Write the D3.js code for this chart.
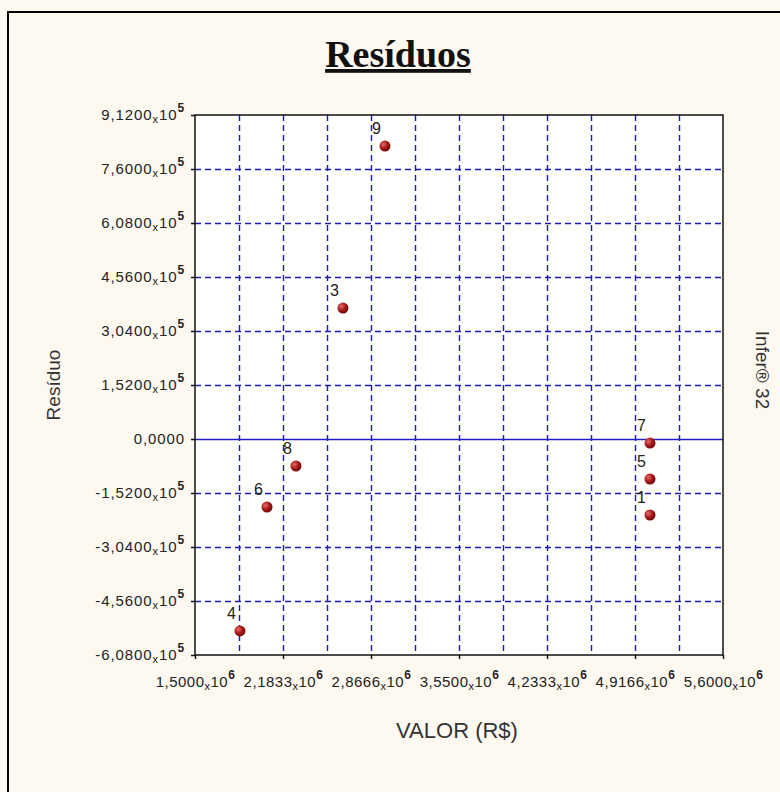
<html>
<head>
<script src="https://d3js.org/d3.v7.min.js"></script>
<title>Resíduos</title>
<style>
  body { margin: 0; background: #fdf9f1; }
</style>
</head>
<body>
<div id="chart"></div>
<script>
// data
const pointIds = ["1", "3", "4", "5", "6", "7", "8", "9"];
const valor    = [5.033e6, 2.649e6, 1.849e6, 5.033e6, 2.059e6, 5.033e6, 2.284e6, 2.975e6];
const residuo  = [-2.139e5, 3.687e5, -5.404e5, -1.126e5, -1.914e5, -0.113e5, -0.76e5, 8.247e5];

const xTicks = [1.5e6, 2.1833e6, 2.8666e6, 3.55e6, 4.2333e6, 4.9166e6, 5.6e6];
const xTickMant = ["1,5000", "2,1833", "2,8666", "3,5500", "4,2333", "4,9166", "5,6000"];
const yTicks = [9.12e5, 7.6e5, 6.08e5, 4.56e5, 3.04e5, 1.52e5, 0, -1.52e5, -3.04e5, -4.56e5, -6.08e5];
const yTickMant = ["9,1200", "7,6000", "6,0800", "4,5600", "3,0400", "1,5200", "0,0000",
                   "-1,5200", "-3,0400", "-4,5600", "-6,0800"];

const w = 780, h = 792;
const pLeft = 195, pRight = 723, pTop = 115, pBottom = 655;
const sans = "Liberation Sans, Arial, sans-serif";

const svg = d3.select("#chart").append("svg")
  .attr("width", w).attr("height", h)
  .attr("font-family", sans);

const defs = svg.append("defs");
const grad = defs.append("radialGradient").attr("id", "ball")
  .attr("cx", "35%").attr("cy", "35%").attr("r", "70%");
grad.append("stop").attr("offset", "0%").attr("stop-color", "#e86a6a");
grad.append("stop").attr("offset", "55%").attr("stop-color", "#a51818");
grad.append("stop").attr("offset", "100%").attr("stop-color", "#6a0606");

// outer frame
svg.append("rect")
  .attr("x", 8).attr("y", 12).attr("width", 820).attr("height", 820)
  .attr("fill", "#fdf9f1").attr("stroke", "#000").attr("stroke-width", 2);

const x = d3.scaleLinear().domain([1.5e6, 5.6e6]).range([pLeft, pRight]);
const y = d3.scaleLinear().domain([-6.08e5, 9.12e5]).range([pBottom, pTop]);
const crisp = v => Math.round(v) + 0.5;

// plot area
svg.append("rect")
  .attr("x", pLeft).attr("y", pTop)
  .attr("width", pRight - pLeft).attr("height", pBottom - pTop)
  .attr("fill", "#fffffd");

// grid
const gridColor = "#1c1cb4";
const xGrid = d3.range(1, 12).map(k => 1.5e6 + k * (4.1e6 / 12));
svg.append("g").selectAll("line").data(xGrid).enter().append("line")
  .attr("x1", d => crisp(x(d))).attr("x2", d => crisp(x(d)))
  .attr("y1", pTop).attr("y2", pBottom)
  .attr("stroke", gridColor).attr("stroke-width", 1.4)
  .attr("stroke-dasharray", "6,4");

svg.append("g").selectAll("line").data(yTicks.filter(d => d !== 0 && d < 9e5 && d > -6e5)).enter().append("line")
  .attr("x1", pLeft).attr("x2", pRight)
  .attr("y1", d => crisp(y(d))).attr("y2", d => crisp(y(d)))
  .attr("stroke", gridColor).attr("stroke-width", 1.4)
  .attr("stroke-dasharray", "6,4");

svg.append("line")
  .attr("x1", pLeft).attr("x2", pRight)
  .attr("y1", crisp(y(0))).attr("y2", crisp(y(0)))
  .attr("stroke", "#2020c8").attr("stroke-width", 1.5);

// border of plot
svg.append("rect")
  .attr("x", pLeft).attr("y", pTop)
  .attr("width", pRight - pLeft).attr("height", pBottom - pTop)
  .attr("fill", "none").attr("stroke", "#111").attr("stroke-width", 1.5);

function sciLabel(sel, mant, exp) {
  sel.text(null);
  sel.append("tspan").text(mant);
  if (mant === "0,0000") return;
  sel.append("tspan").attr("font-size", 11).attr("dy", 3).text("x");
  sel.append("tspan").attr("dy", -3).text("10");
  sel.append("tspan").attr("font-size", 12).attr("font-weight", "bold").attr("dy", -8).text(exp);
}

// y axis
const yAxis = d3.axisLeft(y).tickValues(yTicks).tickSize(4).tickPadding(6);
const gy = svg.append("g").attr("transform", `translate(${pLeft},0)`).call(yAxis);
gy.select(".domain").remove();
gy.selectAll(".tick line").attr("stroke", "#111").attr("stroke-width", 1.5);
gy.selectAll(".tick text")
  .attr("font-size", 15).attr("fill", "#222").attr("letter-spacing", 0.9)
  .attr("font-family", sans)
  .each(function(d, i) { sciLabel(d3.select(this), yTickMant[i], "5"); });

// x axis
const xAxis = d3.axisBottom(x).tickValues(xTicks).tickSize(4).tickPadding(17);
const gx = svg.append("g").attr("transform", `translate(0,${pBottom})`).call(xAxis);
gx.select(".domain").remove();
gx.selectAll(".tick line").attr("stroke", "#111").attr("stroke-width", 1.5);
gx.selectAll(".tick text")
  .attr("font-size", 15).attr("fill", "#222").attr("letter-spacing", 0.5)
  .attr("font-family", sans)
  .each(function(d, i) { sciLabel(d3.select(this), xTickMant[i], "6"); });

// points
const pts = svg.append("g").selectAll("g").data(pointIds).enter().append("g");
pts.append("circle")
  .attr("cx", (d, i) => x(valor[i])).attr("cy", (d, i) => y(residuo[i]))
  .attr("r", 5.5).attr("fill", "url(#ball)");
pts.append("text")
  .attr("x", (d, i) => x(valor[i]) - 13).attr("y", (d, i) => y(residuo[i]) - 12)
  .attr("font-size", 16).attr("fill", "#222")
  .text(d => d);

// titles
svg.append("text")
  .attr("x", 398).attr("y", 67).attr("text-anchor", "middle")
  .attr("font-family", "Liberation Serif, Times New Roman, serif")
  .attr("font-weight", "bold").attr("font-size", 38).attr("fill", "#111")
  .attr("text-decoration", "underline")
  .text("Resíduos");

svg.append("text")
  .attr("transform", "translate(60,385) rotate(-90)")
  .attr("text-anchor", "middle").attr("font-size", 19).attr("fill", "#333")
  .text("Resíduo");

svg.append("text")
  .attr("x", 457).attr("y", 738).attr("text-anchor", "middle")
  .attr("font-size", 22).attr("fill", "#333")
  .text("VALOR (R$)");

svg.append("text")
  .attr("transform", "translate(756,370) rotate(90)")
  .attr("text-anchor", "middle").attr("font-size", 19).attr("fill", "#333")
  .text("Infer® 32");
</script>
</body>
</html>
